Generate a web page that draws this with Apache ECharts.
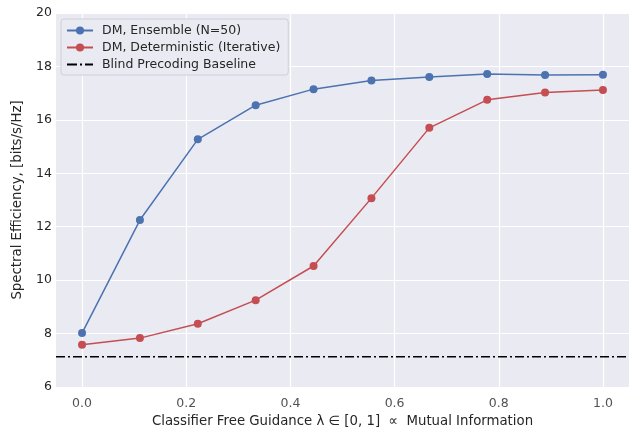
<!DOCTYPE html>
<html><head><meta charset="utf-8">
<script src="https://cdn.jsdelivr.net/npm/echarts@6/dist/echarts.min.js"></script>
<style>html,body{margin:0;padding:0;background:#fff}#c{width:631px;height:430px}</style>
</head><body><div id="c"></div>
<script>
const xValues = [0, 1/9, 2/9, 3/9, 4/9, 5/9, 6/9, 7/9, 8/9, 1];
const ensemble = [8.02, 12.25, 15.27, 16.55, 17.15, 17.47, 17.6, 17.72, 17.68, 17.69];
const deterministic = [7.58, 7.83, 8.37, 9.25, 10.53, 13.07, 15.7, 16.75, 17.02, 17.12];
const baseline = 7.13;
const xTicks = [0, 0.2, 0.4, 0.6, 0.8, 1.0];
const yTicks = [6, 8, 10, 12, 14, 16, 18, 20];

const font = 'DejaVu Sans';
const dashDotIcon = 'path://M0,4h10v2h-10z M13,4h2v2h-2z M18,4h8v2h-8z';
const chart = echarts.init(document.getElementById('c'), null, {renderer: 'canvas'});
chart.setOption({
  animation: false,
  backgroundColor: '#fff',
  textStyle: {fontFamily: font},
  grid: {left: 56, right: 2, top: 13, bottom: 43, show: true, backgroundColor: '#EAEAF2', borderWidth: 0,
    outerBoundsMode: 'none', containLabel: false},
  legend: {
    left: 61, top: 19, orient: 'vertical', itemGap: 4, itemWidth: 26, itemHeight: 10, z: 20,
    backgroundColor: '#EAEAF2', borderColor: '#cfcfd6', borderWidth: 1, borderRadius: 3,
    padding: [5, 8, 4, 5],
    textStyle: {fontFamily: font, fontSize: 12.5, color: '#262626', padding: [0, 0, 0, 4]},
    data: [
      {name: 'DM, Ensemble (N=50)'},
      {name: 'DM, Deterministic (Iterative)'},
      {name: 'Blind Precoding Baseline', icon: dashDotIcon, itemStyle: {color: '#000'}}
    ]
  },
  xAxis: {
    type: 'value', min: -0.05, max: 1.05,
    axisLine: {show: false}, axisTick: {show: false},
    splitLine: {show: false},
    axisLabel: {show: false},
    name: 'Classifier Free Guidance λ ∈ [0, 1]  ∝  Mutual Information',
    nameLocation: 'middle', nameGap: 28,
    nameTextStyle: {fontFamily: font, fontSize: 13.3, color: '#262626'}
  },
  yAxis: {
    type: 'value', min: 6, max: 20, interval: 2,
    axisLine: {show: false}, axisTick: {show: false},
    splitLine: {show: true, lineStyle: {color: '#fff', width: 1.2}},
    axisLabel: {fontFamily: font, fontSize: 12.5, color: '#262626', margin: 4},
    name: 'Spectral Efficiency, [bits/s/Hz]',
    nameLocation: 'middle', nameGap: 32,
    nameTextStyle: {fontFamily: font, fontSize: 13.3, color: '#262626'}
  },
  series: [
    {
      name: '__xgrid', type: 'line', silent: true, data: [], z: 1,
      markLine: {
        silent: true, symbol: 'none', label: {show: false}, z: 1,
        lineStyle: {color: '#fff', width: 1.2, type: 'solid'},
        data: xTicks.map(v => ({xAxis: v}))
      }
    },
    {
      name: '__xlabels', type: 'scatter', silent: true, symbolSize: 0,
      data: xTicks.map(v => [v, 6]),
      label: {show: true, position: 'bottom', distance: 10, fontFamily: font, fontSize: 12.5, color: '#262626',
        formatter: p => p.value[0].toFixed(1)}
    },
    {
      name: 'DM, Ensemble (N=50)', type: 'line', color: '#4C72B0',
      data: xValues.map((x, i) => [x, ensemble[i]]),
      symbol: 'circle', symbolSize: 8, lineStyle: {width: 1.5}, z: 5
    },
    {
      name: 'DM, Deterministic (Iterative)', type: 'line', color: '#C44E52',
      data: xValues.map((x, i) => [x, deterministic[i]]),
      symbol: 'circle', symbolSize: 8, lineStyle: {width: 1.5}, z: 5
    },
    {
      name: 'Blind Precoding Baseline', type: 'line', color: '#000',
      data: [[-0.05, baseline], [1.05, baseline]],
      symbol: 'none', lineStyle: {width: 1.5, type: [9, 3, 2, 3]}, z: 4
    }
  ]
});
</script></body></html>
